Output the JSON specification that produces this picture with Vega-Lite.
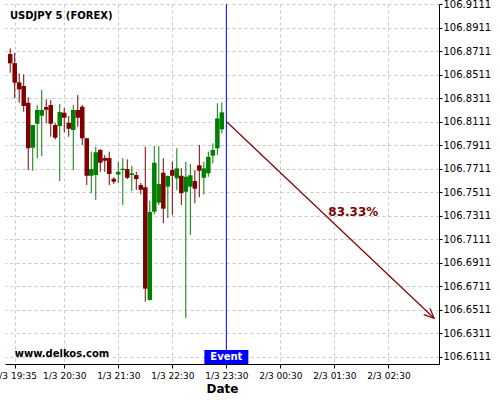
{
  "$schema": "https://vega.github.io/schema/vega-lite/v6.json",
  "width": 434,
  "height": 360,
  "autosize": {"type": "none"},
  "padding": {"left": 5, "top": 4, "right": 61, "bottom": 36},
  "background": "white",
  "title": {"text": "USDJPY 5 (FOREX)", "anchor": "start", "frame": "group", "orient": "top", "offset": -22, "dx": 5, "dy": 5, "fontSize": 10, "fontWeight": "bold", "font": "DejaVu Sans", "color": "#000000", "baseline": "middle"},
  "config": {
    "font": "DejaVu Sans",
    "view": {"stroke": null},
    "axis": {"labelOverlap": false},
    "axisX": {"labelOverlap": false, "labelFlush": false, "labelFontSize": 9, "labelColor": "#000000", "labelPadding": 3, "tickSize": 4, "tickColor": "#000000", "domainColor": "#000000", "grid": true, "gridColor": "#c8c8c8", "gridDash": [3, 3], "titleFontSize": 12, "titleFontWeight": "bold", "titleColor": "#000000", "titlePadding": 3},
    "axisY": {"labelOverlap": false, "labelFlush": false, "labelFontSize": 10, "labelColor": "#000000", "labelPadding": 1, "tickSize": 3, "tickColor": "#000000", "domainColor": "#000000", "grid": true, "gridColor": "#c8c8c8", "gridDash": [3, 3]}
  },
  "datasets": {
    "candles": [
      {"t": "2020-03-01T19:30:00Z", "o": 106.8688, "h": 106.8737, "l": 106.8529, "c": 106.8609},
      {"t": "2020-03-01T19:35:00Z", "o": 106.8611, "h": 106.8699, "l": 106.8311, "c": 106.8444},
      {"t": "2020-03-01T19:40:00Z", "o": 106.8447, "h": 106.8524, "l": 106.8274, "c": 106.8388},
      {"t": "2020-03-01T19:45:00Z", "o": 106.8416, "h": 106.8515, "l": 106.8197, "c": 106.8246},
      {"t": "2020-03-01T19:50:00Z", "o": 106.8274, "h": 106.8320, "l": 106.7701, "c": 106.7886},
      {"t": "2020-03-01T19:55:00Z", "o": 106.7891, "h": 106.8084, "l": 106.7695, "c": 106.8084},
      {"t": "2020-03-01T20:00:00Z", "o": 106.8095, "h": 106.8252, "l": 106.7801, "c": 106.8212},
      {"t": "2020-03-01T20:05:00Z", "o": 106.8163, "h": 106.8382, "l": 106.7820, "c": 106.8212},
      {"t": "2020-03-01T20:10:00Z", "o": 106.8237, "h": 106.8303, "l": 106.8098, "c": 106.8214},
      {"t": "2020-03-01T20:15:00Z", "o": 106.8254, "h": 106.8297, "l": 106.7984, "c": 106.8095},
      {"t": "2020-03-01T20:20:00Z", "o": 106.8084, "h": 106.8100, "l": 106.7962, "c": 106.7976},
      {"t": "2020-03-01T20:25:00Z", "o": 106.8075, "h": 106.8263, "l": 106.7607, "c": 106.8195},
      {"t": "2020-03-01T20:30:00Z", "o": 106.8189, "h": 106.8229, "l": 106.8022, "c": 106.8146},
      {"t": "2020-03-01T20:35:00Z", "o": 106.8103, "h": 106.8160, "l": 106.7984, "c": 106.8052},
      {"t": "2020-03-01T20:40:00Z", "o": 106.8041, "h": 106.8254, "l": 106.7701, "c": 106.8212},
      {"t": "2020-03-01T20:45:00Z", "o": 106.8212, "h": 106.8339, "l": 106.8069, "c": 106.8146},
      {"t": "2020-03-01T20:50:00Z", "o": 106.8240, "h": 106.8254, "l": 106.7914, "c": 106.7971},
      {"t": "2020-03-01T20:55:00Z", "o": 106.7971, "h": 106.7975, "l": 106.7573, "c": 106.7652},
      {"t": "2020-03-01T21:00:00Z", "o": 106.7652, "h": 106.7857, "l": 106.7503, "c": 106.7709},
      {"t": "2020-03-01T21:05:00Z", "o": 106.7658, "h": 106.7899, "l": 106.7446, "c": 106.7852},
      {"t": "2020-03-01T21:10:00Z", "o": 106.7871, "h": 106.7880, "l": 106.7686, "c": 106.7763},
      {"t": "2020-03-01T21:15:00Z", "o": 106.7803, "h": 106.7828, "l": 106.7686, "c": 106.7780},
      {"t": "2020-03-01T21:20:00Z", "o": 106.7803, "h": 106.7857, "l": 106.7573, "c": 106.7667},
      {"t": "2020-03-01T21:25:00Z", "o": 106.7627, "h": 106.7640, "l": 106.7582, "c": 106.7601},
      {"t": "2020-03-01T21:30:00Z", "o": 106.7663, "h": 106.7769, "l": 106.7588, "c": 106.7686},
      {"t": "2020-03-01T21:35:00Z", "o": 106.7701, "h": 106.7801, "l": 106.7403, "c": 106.7712},
      {"t": "2020-03-01T21:40:00Z", "o": 106.7709, "h": 106.7792, "l": 106.7624, "c": 106.7635},
      {"t": "2020-03-01T21:45:00Z", "o": 106.7658, "h": 106.7738, "l": 106.7522, "c": 106.7673},
      {"t": "2020-03-01T21:50:00Z", "o": 106.7658, "h": 106.7686, "l": 106.7533, "c": 106.7624},
      {"t": "2020-03-01T21:55:00Z", "o": 106.7573, "h": 106.7590, "l": 106.7494, "c": 106.7533},
      {"t": "2020-03-01T22:00:00Z", "o": 106.7554, "h": 106.7899, "l": 106.6580, "c": 106.6691},
      {"t": "2020-03-01T22:05:00Z", "o": 106.6595, "h": 106.7440, "l": 106.6589, "c": 106.7344},
      {"t": "2020-03-01T22:10:00Z", "o": 106.7346, "h": 106.7905, "l": 106.7324, "c": 106.7763},
      {"t": "2020-03-01T22:15:00Z", "o": 106.7423, "h": 106.7905, "l": 106.7403, "c": 106.7582},
      {"t": "2020-03-01T22:20:00Z", "o": 106.7678, "h": 106.7801, "l": 106.7247, "c": 106.7372},
      {"t": "2020-03-01T22:25:00Z", "o": 106.7559, "h": 106.7655, "l": 106.7292, "c": 106.7650},
      {"t": "2020-03-01T22:30:00Z", "o": 106.7701, "h": 106.7772, "l": 106.7320, "c": 106.7652},
      {"t": "2020-03-01T22:35:00Z", "o": 106.7630, "h": 106.7886, "l": 106.7531, "c": 106.7715},
      {"t": "2020-03-01T22:40:00Z", "o": 106.7652, "h": 106.7715, "l": 106.7403, "c": 106.7503},
      {"t": "2020-03-01T22:45:00Z", "o": 106.7516, "h": 106.7772, "l": 106.6439, "c": 106.7644},
      {"t": "2020-03-01T22:50:00Z", "o": 106.7559, "h": 106.7752, "l": 106.7148, "c": 106.7656},
      {"t": "2020-03-01T22:55:00Z", "o": 106.7607, "h": 106.7701, "l": 106.7418, "c": 106.7542},
      {"t": "2020-03-01T23:00:00Z", "o": 106.7741, "h": 106.7914, "l": 106.7469, "c": 106.7695},
      {"t": "2020-03-01T23:05:00Z", "o": 106.7635, "h": 106.7772, "l": 106.7494, "c": 106.7715},
      {"t": "2020-03-01T23:10:00Z", "o": 106.7673, "h": 106.7857, "l": 106.7644, "c": 106.7814},
      {"t": "2020-03-01T23:15:00Z", "o": 106.7823, "h": 106.7928, "l": 106.7758, "c": 106.7871},
      {"t": "2020-03-01T23:20:00Z", "o": 106.7886, "h": 106.8269, "l": 106.7829, "c": 106.8141},
      {"t": "2020-03-01T23:25:00Z", "o": 106.8047, "h": 106.8277, "l": 106.8013, "c": 106.8192}
    ],
    "events": [{"t": "2020-03-01T23:30:00Z", "label": "Event"}],
    "arrow": [{"t1": "2020-03-01T23:30:00Z", "p1": 106.8114, "t2": "2020-03-02T03:20:40Z", "p2": 106.6439, "tl": "2020-03-02T01:51:00Z", "pl": 106.7344, "pct": "83.33%"}],
    "notes": [{"text": "www.delkos.com"}]
  },
  "layer": [
    {
      "data": {"name": "candles"},
      "mark": {"type": "rule", "strokeWidth": 1},
      "encoding": {
        "x": {"field": "t", "type": "temporal", "title": "Date",
          "scale": {"type": "utc", "padding": 0, "domain": [
            {"year": 2020, "month": 3, "date": 1, "hours": 19, "minutes": 24, "seconds": 13, "utc": true},
            {"year": 2020, "month": 3, "date": 2, "hours": 3, "minutes": 26, "seconds": 7, "utc": true}
          ]},
          "axis": {"title": "Date", "labelOverlap": false, "tickCount": 30, "labelExpr": "utcFormat(datum.value, '%-d/%-m %H:%M')", "values": [
              {"year": 2020, "month": 3, "date": 1, "hours": 19, "minutes": 35, "utc": true},
              {"year": 2020, "month": 3, "date": 1, "hours": 20, "minutes": 30, "utc": true},
              {"year": 2020, "month": 3, "date": 1, "hours": 21, "minutes": 30, "utc": true},
              {"year": 2020, "month": 3, "date": 1, "hours": 22, "minutes": 30, "utc": true},
              {"year": 2020, "month": 3, "date": 1, "hours": 23, "minutes": 30, "utc": true},
              {"year": 2020, "month": 3, "date": 2, "hours": 0, "minutes": 30, "utc": true},
              {"year": 2020, "month": 3, "date": 2, "hours": 1, "minutes": 30, "utc": true},
              {"year": 2020, "month": 3, "date": 2, "hours": 2, "minutes": 30, "utc": true}
            ]}
        },
        "y": {"field": "h", "type": "quantitative", "title": null,
          "scale": {"domain": [106.605, 106.9114], "zero": false, "nice": false, "padding": 0},
          "axis": {"orient": "right", "title": null, "format": ".4f", "labelOverlap": false, "tickCount": 30,
            "values": [106.6111, 106.6311, 106.6511, 106.6711, 106.6911, 106.7111, 106.7311, 106.7511, 106.7711, 106.7911, 106.8111, 106.8311, 106.8511, 106.8711, 106.8911, 106.9111]}
        },
        "y2": {"field": "l"},
        "color": {"condition": {"test": "datum.c >= datum.o", "value": "#008000"}, "value": "#800000"}
      }
    },
    {
      "data": {"name": "candles"},
      "mark": {"type": "bar", "size": 4.5},
      "encoding": {
        "x": {"field": "t", "type": "temporal", "title": "Date", "axis": {"labelOverlap": false, "tickCount": 30}},
        "y": {"field": "o", "type": "quantitative", "title": null, "axis": {"labelOverlap": false, "tickCount": 30}},
        "y2": {"field": "c"},
        "color": {"condition": {"test": "datum.c >= datum.o", "value": "#008000"}, "value": "#800000"}
      }
    },
    {
      "data": {"name": "events"},
      "mark": {"type": "rule", "color": "#0000ff", "strokeWidth": 1},
      "encoding": {"x": {"field": "t", "type": "temporal", "title": "Date", "axis": {"labelOverlap": false, "tickCount": 30}}}
    },
    {
      "data": {"name": "arrow"},
      "mark": {"type": "rule", "color": "#800000", "strokeWidth": 1.2},
      "encoding": {
        "x": {"field": "t1", "type": "temporal", "title": "Date", "axis": {"labelOverlap": false, "tickCount": 30}},
        "y": {"field": "p1", "type": "quantitative", "title": null, "axis": {"labelOverlap": false, "tickCount": 30}},
        "x2": {"field": "t2"},
        "y2": {"field": "p2"}
      }
    },
    {
      "data": {"name": "arrow"},
      "mark": {"type": "point", "shape": "M-1,-0.45L0,0L-1,0.45", "filled": false, "color": "#800000", "strokeWidth": 1.2, "opacity": 1, "size": 400, "angle": 43.45},
      "encoding": {
        "x": {"field": "t2", "type": "temporal", "title": "Date", "axis": {"labelOverlap": false, "tickCount": 30}},
        "y": {"field": "p2", "type": "quantitative", "title": null, "axis": {"labelOverlap": false, "tickCount": 30}}
      }
    },
    {
      "data": {"name": "arrow"},
      "mark": {"type": "text", "color": "#800000", "fontSize": 12, "fontWeight": "bold", "align": "center", "baseline": "middle"},
      "encoding": {
        "x": {"field": "tl", "type": "temporal", "title": "Date", "axis": {"labelOverlap": false, "tickCount": 30}},
        "y": {"field": "pl", "type": "quantitative", "title": null, "axis": {"labelOverlap": false, "tickCount": 30}},
        "text": {"field": "pct"}
      }
    },
    {
      "data": {"name": "events"},
      "mark": {"type": "point", "shape": "M-1,-0.318L1,-0.318L1,0.318L-1,0.318Z", "filled": true, "color": "#0000ff", "opacity": 1, "size": 1936, "strokeWidth": 0},
      "encoding": {
        "x": {"field": "t", "type": "temporal", "title": "Date", "axis": {"labelOverlap": false, "tickCount": 30}},
        "y": {"datum": 106.611, "type": "quantitative", "title": null, "axis": {"labelOverlap": false, "tickCount": 30}}
      }
    },
    {
      "data": {"name": "events"},
      "mark": {"type": "text", "color": "#ffffff", "fontSize": 10, "fontWeight": "bold", "align": "center", "baseline": "middle"},
      "encoding": {
        "x": {"field": "t", "type": "temporal", "title": "Date", "axis": {"labelOverlap": false, "tickCount": 30}},
        "y": {"datum": 106.611, "type": "quantitative", "title": null, "axis": {"labelOverlap": false, "tickCount": 30}},
        "text": {"field": "label"}
      }
    },
    {
      "data": {"name": "notes"},
      "mark": {"type": "text", "color": "#000000", "fontSize": 10, "fontWeight": "bold", "align": "left", "baseline": "middle"},
      "encoding": {
        "x": {"datum": {"year": 2020, "month": 3, "date": 1, "hours": 19, "minutes": 35, "utc": true}, "type": "temporal", "title": "Date", "axis": {"labelOverlap": false, "tickCount": 30}},
        "y": {"datum": 106.6135, "type": "quantitative", "title": null, "axis": {"labelOverlap": false, "tickCount": 30}},
        "text": {"field": "text"}
      }
    }
  ]
}
